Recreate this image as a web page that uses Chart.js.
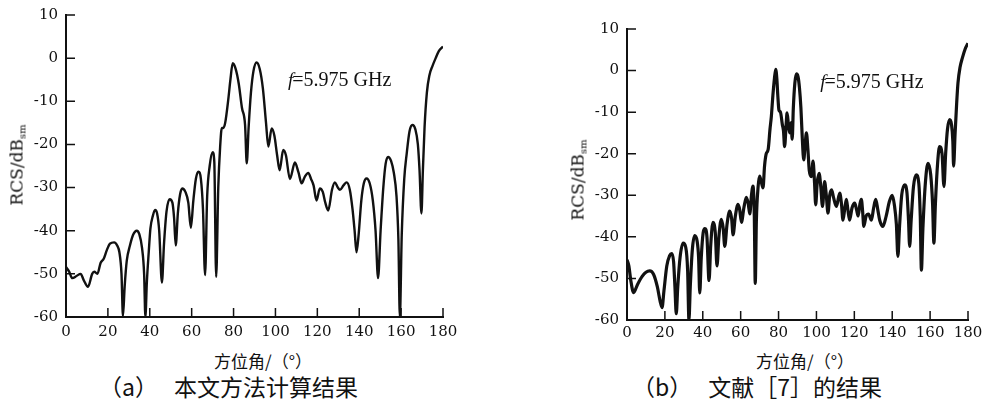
<!DOCTYPE html>
<html>
<head>
<meta charset="utf-8">
<script src="https://cdn.jsdelivr.net/npm/chart.js@4.4.0/dist/chart.umd.min.js"></script>
<style>
  body { margin: 0; background: #fff; }
  #page { position: relative; width: 987px; height: 401px; overflow: hidden; background: #fff; color: #111; }
  canvas { position: absolute; top: 0; }
  .ytitle { position: absolute; font-family: "DejaVu Serif", serif; font-size: 17px; white-space: nowrap;
            line-height: 1; transform: translate(-50%, -50%) rotate(-90deg); }
  .ytitle sub { font-size: 10px; vertical-align: -3px; }
  .xtitle { position: absolute; font-family: "Noto Sans CJK SC", sans-serif; font-size: 17px; white-space: nowrap;
            line-height: 1; transform: translate(-50%, -50%); }
  .caption { position: absolute; font-family: "Noto Sans CJK SC", sans-serif; font-size: 23px; white-space: nowrap; line-height: 1; }
</style>
</head>
<body>
<div id="page">
  <canvas id="chartA" width="480" height="345" style="left:0"></canvas>
  <canvas id="chartB" width="487" height="345" style="left:500px"></canvas>

  <div class="ytitle" style="left:18px; top:165px">RCS/dB<sub>sm</sub></div>
  <div class="ytitle" style="left:579px; top:180px">RCS/dB<sub>sm</sub></div>

  <div class="xtitle" style="left:263px; top:360px">方位角/（°）</div>
  <div class="xtitle" style="left:805px; top:360px">方位角/（°）</div>

  <div class="caption" style="left:99px; top:375px">（a）<span style="margin-left:16px">本文方法计算结果</span></div>
  <div class="caption" style="left:632px; top:375px">（b）<span style="margin-left:16px">文献［7］的结果</span></div>
</div>

<script>
// Azimuth angle (deg) and RCS (dBsm)
const angleA = [0, 1.5, 3, 5, 7, 8.5, 10.5, 12.5, 13.5, 15, 16.5, 18, 19.5, 21, 23, 24.5, 25.5, 26.5, 27.2, 28,
  29, 30.5, 32, 33.8, 35, 36.3, 37.3, 37.9, 38.6, 39.5, 40.3, 41.5, 42.5, 43.5, 44.5, 45.8, 46.8, 48, 49.5, 50.8,
  51.6, 52.4, 53.4, 54.5, 55.5, 57, 58.4, 59.6, 60.8, 62, 63.2, 64.4, 65.4, 66.4, 67.4, 68.6, 70, 70.8, 71.7, 72.7,
  73.6, 74.4, 75.1, 76, 77.5, 78.5, 79.6, 81, 82.5, 84, 85.5, 86.3, 87.2, 88.3, 89.5, 91, 92.5, 94, 95.5, 96.6,
  98.2, 99.5, 100.8, 102, 103.7, 105, 106.9, 109.3, 111, 112.5, 114, 115.7, 117, 118.2, 119.6, 121.2, 122.6, 123.8,
  125.2, 127, 128.4, 129.8, 130.8, 132.5, 134, 135.5, 136.8, 137.8, 138.7, 139.7, 141, 142.2, 143.5, 145, 146.5,
  147.8, 149, 150.2, 151.5, 152.6, 153.8, 155.2, 156.5, 157.8, 158.7, 159.4, 160.3, 161.5, 162.7, 164, 165.4, 166.8,
  168, 168.8, 169.7, 170.4, 171.2, 172.3, 173.5, 175, 176.5, 178, 180];
const rcsA = [-48.4, -49.5, -51, -50.5, -50, -51.5, -53, -50, -49.5, -50, -47.5, -46.5, -44.5, -43, -42.7, -43.5,
  -45, -50, -59.8, -53, -47, -43.5, -41, -40, -40.8, -44, -50, -60, -52, -45, -39.5, -36.5, -35.2, -36, -40, -52,
  -43, -35.5, -32.7, -33.5, -37, -43.4, -36, -31.5, -30.2, -31, -33.5, -39.3, -33, -28, -26.3, -28, -35, -50.3,
  -32, -25, -21.8, -24, -50.7, -30, -20.5, -16.2, -16.2, -15, -9.5, -5, -1.2, -2.5, -6, -11.5, -15.5, -24.4, -16,
  -8, -3, -1, -2.5, -7, -15, -20.5, -16.3, -18, -22.5, -26, -21.3, -22.5, -28, -24.2, -26.5, -29, -27.5, -26.6,
  -28, -29.5, -33, -30.2, -31, -33.5, -35.3, -30.5, -28.8, -30, -30.5, -29.5, -28.8, -30.5, -35, -40, -45, -41,
  -33, -29, -27.9, -29, -33, -40, -51, -40, -30, -24.5, -22.9, -23.8, -26.5, -32, -42, -60, -41, -28, -22, -17,
  -15.5, -16.5, -20, -26, -36, -26, -16, -8, -4, -1.8, 0, 1.6, 2.7];

const angleB = [0, 1, 2, 3.5, 5.5, 8, 10, 12, 14, 16, 17.5, 18.5, 19.5, 21, 22.5, 23.6, 24.6, 25.3, 26, 26.8, 28,
  29.6, 31, 32, 32.7, 33.4, 34.5, 35.7, 37, 37.8, 38.4, 39.2, 40.2, 41.1, 42.2, 43.3, 44.2, 45.4, 46.6, 47.5, 48.5,
  49.8, 50.8, 51.6, 52.8, 54.2, 55.2, 56, 57.2, 58.6, 59.5, 60.4, 61.7, 63, 64, 64.8, 65.7, 66.5, 67.2, 67.7, 68.3,
  69.2, 70, 71, 71.8, 72.6, 73.5, 74.5, 75.5, 76.2, 77, 77.8, 78.5, 79.1, 79.6, 80.2, 81, 82, 82.6, 83.2, 84, 84.5,
  85.2, 85.9, 86.6, 87.2, 87.8, 88.6, 89.4, 90.3, 91, 91.8, 92.5, 93.3, 94, 94.7, 95.5, 96.2, 97.3, 98.2, 99, 99.6,
  100.4, 101.4, 102.3, 103.2, 104.3, 105.2, 106.1, 107, 108, 109, 110.5, 112.3, 113.2, 114, 115, 115.8, 116.6, 117.5,
  118.8, 120.2, 121.2, 122, 123, 123.7, 124.4, 125, 126.2, 127.5, 129, 130.2, 131.3, 132.4, 133.4, 135.1, 136.8,
  138.5, 140, 141.2, 142.2, 143, 143.8, 145, 146.6, 147.8, 148.6, 149.2, 150, 151.2, 152.7, 154, 154.8, 155.4, 156.2,
  157.5, 158.9, 160.3, 161.3, 162, 162.8, 164, 165, 166.3, 167.3, 168.2, 169.2, 170.3, 171.3, 172, 172.4, 173.2,
  174, 174.7, 175.8, 177, 178.5, 180];
const rcsB = [-45.5, -47, -50.5, -53.4, -51.5, -49.5, -48.5, -48.2, -49, -52, -55.5, -57, -53, -47, -44.5, -44, -46,
  -52, -58.5, -52, -45, -41.5, -42.5, -48, -60, -52, -43, -39.7, -41, -45, -53.5, -45, -39, -38, -40, -50.5, -42,
  -36.5, -39, -47, -40, -35.8, -38, -42.3, -37, -33.8, -35.5, -39.5, -35, -32.2, -33.5, -36.5, -33, -30.5, -32,
  -34.5, -30, -27.8, -35, -51.2, -36, -28, -25.4, -27, -28.2, -23, -20, -19, -14, -11, -6, -2, 0.3, -2, -6, -9.5,
  -10, -13, -14.5, -18.3, -13, -10.2, -13, -15, -12.5, -16.5, -9, -3, -0.8, -1.5, -4, -9, -16, -21.5, -18, -15,
  -19, -24, -25.5, -21.8, -27, -32.3, -27, -24.7, -28, -32.7, -26.7, -30, -34.3, -30, -28.7, -30.5, -32.7, -29.5,
  -32, -36, -33, -31, -33.5, -36, -33, -31.9, -33.5, -35, -32, -31, -34, -37.5, -35, -34.5, -36, -33, -31, -33.5,
  -36, -37.5, -35, -31.5, -30, -32.5, -37, -44.7, -38, -30, -27.5, -29.5, -36, -42.3, -36, -28, -25.1, -27, -35,
  -48, -38, -27, -22.3, -25, -32, -41.5, -32, -22, -18.3, -20, -27.9, -20, -14, -11.8, -13, -17, -23, -15, -8, -3,
  0.8, 3, 5.2, 6.6];

const xTicks = [0, 20, 40, 60, 80, 100, 120, 140, 160, 180];
const yTicks = [-60, -50, -40, -30, -20, -10, 0, 10];
const freqLabel = '=5.975 GHz';

const ink = '#111';
const tickFont = { family: '"DejaVu Serif", serif', size: 15 };

// short tick marks pointing into the plot
const innerTicks = {
  id: 'innerTicks',
  afterDraw(chart, args, o) {
    const { ctx, chartArea, scales } = chart;
    ctx.save();
    ctx.strokeStyle = ink;
    ctx.lineWidth = 1.5;
    ctx.beginPath();
    scales.x.ticks.forEach(t => {
      const px = scales.x.getPixelForValue(t.value);
      ctx.moveTo(px, chartArea.bottom);
      ctx.lineTo(px, chartArea.bottom - o.len);
    });
    scales.y.ticks.forEach(t => {
      const py = scales.y.getPixelForValue(t.value);
      ctx.moveTo(chartArea.left, py);
      ctx.lineTo(chartArea.left + o.len, py);
    });
    ctx.stroke();
    ctx.restore();
  }
};

// "f=5.975 GHz" note, anchored at a data position
const freqNote = {
  id: 'freqNote',
  afterDraw(chart, args, o) {
    const { ctx, scales } = chart;
    const x = scales.x.getPixelForValue(o.x);
    const y = scales.y.getPixelForValue(o.y);
    ctx.save();
    ctx.fillStyle = ink;
    ctx.textBaseline = 'middle';
    ctx.font = 'italic 19px "Liberation Serif", serif';
    ctx.fillText('f', x, y);
    const w = ctx.measureText('f').width;
    ctx.font = '19px "DejaVu Serif", serif';
    ctx.font = '20px "Liberation Serif", serif';
    ctx.fillText(freqLabel, x + w - 1, y);
    ctx.restore();
  }
};

function makeChart(id, angles, values, cfg) {
  return new Chart(document.getElementById(id), {
    type: 'line',
    data: {
      datasets: [{
        data: angles.map((a, i) => ({ x: a, y: values[i] })),
        borderColor: ink,
        borderWidth: cfg.lineWidth,
        pointRadius: 0,
        tension: 0.4,
        cubicInterpolationMode: 'monotone'
      }]
    },
    options: {
      responsive: false,
      animation: false,
      layout: { padding: cfg.padding },
      plugins: {
        legend: { display: false },
        tooltip: { enabled: false },
        innerTicks: { len: 9 },
        freqNote: cfg.note
      },
      scales: {
        x: {
          type: 'linear',
          min: 0,
          max: 180,
          afterBuildTicks: s => { s.ticks = xTicks.map(v => ({ value: v })); },
          afterFit: s => { s.height = cfg.xHeight; s.paddingLeft = 0; s.paddingRight = 0; },
          ticks: { font: tickFont, color: ink, padding: cfg.xPad, maxRotation: 0, autoSkip: false },
          grid: { display: false, drawTicks: false },
          border: { display: true, color: ink, width: 2 }
        },
        y: {
          min: -60,
          max: 10,
          afterBuildTicks: s => { s.ticks = yTicks.map(v => ({ value: v })); },
          afterFit: s => { s.width = cfg.yWidth; s.paddingTop = 0; s.paddingBottom = 0; },
          ticks: { font: tickFont, color: ink, padding: 8, autoSkip: false },
          grid: { display: false, drawTicks: false },
          border: { display: true, color: ink, width: 2 }
        }
      }
    },
    plugins: [innerTicks, freqNote]
  });
}

makeChart('chartA', angleA, rcsA, {
  lineWidth: 2.4,
  padding: { left: 0, right: 37, top: 15, bottom: 0 },
  yWidth: 66, xHeight: 28, xPad: 6,
  note: { x: 106, y: -5.3 }
});

makeChart('chartB', angleB, rcsB, {
  lineWidth: 3.2,
  padding: { left: 60, right: 19, top: 29, bottom: 0 },
  yWidth: 67, xHeight: 25, xPad: 4,
  note: { x: 102, y: -3 }
});
</script>
</body>
</html>
